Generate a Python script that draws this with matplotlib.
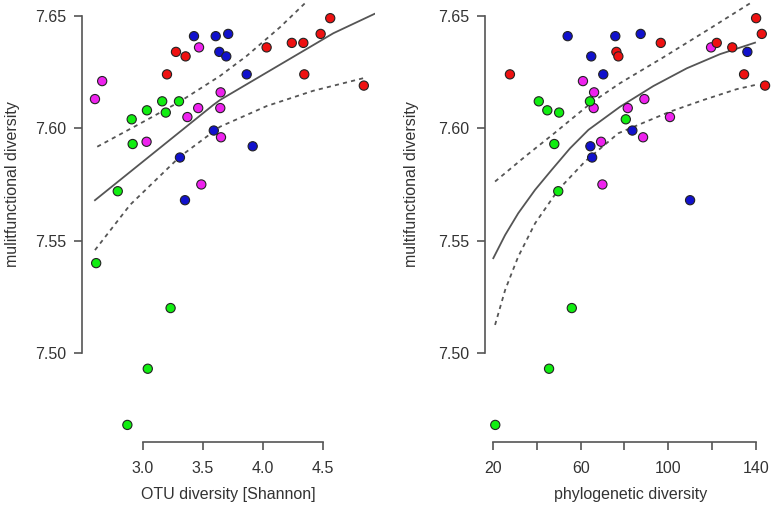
import matplotlib
matplotlib.use("Agg")
import matplotlib.pyplot as plt

plt.rcParams['font.family'] = ['Liberation Sans', 'DejaVu Sans']

# cores dos grupos (estilo R)
cores = {'r': '#ee1111', 'g': '#11ee11', 'b': '#1111cc', 'm': '#ee22ee'}

# ---- painel esquerdo: OTU diversity [Shannon] ----
otu_x = [2.60, 2.66, 3.03, 3.467, 3.37, 3.46, 3.486, 3.647, 3.644, 3.65,
         2.906, 2.914, 3.033, 3.16, 3.19, 3.30, 2.79, 2.61, 3.23, 3.04, 2.87,
         3.425, 3.308, 3.35, 3.606, 3.71, 3.636, 3.694, 3.59, 3.864, 3.914,
         3.20, 3.275, 3.355, 4.03, 4.24, 4.336, 4.344, 4.48, 4.56, 4.84]
otu_y = [7.613, 7.621, 7.594, 7.636, 7.605, 7.609, 7.575, 7.616, 7.609, 7.596,
         7.604, 7.593, 7.608, 7.612, 7.607, 7.612, 7.572, 7.540, 7.520, 7.493, 7.468,
         7.641, 7.587, 7.568, 7.641, 7.642, 7.634, 7.632, 7.599, 7.624, 7.592,
         7.624, 7.634, 7.632, 7.636, 7.638, 7.638, 7.624, 7.642, 7.649, 7.619]
otu_grupo = ['m'] * 10 + ['g'] * 11 + ['b'] * 10 + ['r'] * 10

otu_fit_x = [2.600, 3.586, 3.642, 4.586, 4.928]
otu_fit_y = [7.568, 7.6104, 7.6126, 7.6423, 7.6509]
otu_sup_x = [2.619, 3.031, 3.308, 3.642, 3.864, 4.142, 4.364]
otu_sup_y = [7.5918, 7.6037, 7.6119, 7.6233, 7.6322, 7.6450, 7.6564]
otu_inf_x = [2.600, 2.892, 3.308, 3.642, 4.031, 4.419, 4.836]
otu_inf_y = [7.5458, 7.5659, 7.5874, 7.6007, 7.6099, 7.6167, 7.6223]

# ---- painel direito: phylogenetic diversity ----
pd_x = [61.0, 66.1, 65.9, 69.3, 69.9, 81.5, 89.1, 88.5, 100.8, 119.6,
        40.8, 44.7, 50.1, 47.9, 49.7, 64.2, 80.6, 55.9, 45.5, 20.9,
        54.0, 64.8, 70.3, 64.4, 65.2, 75.8, 87.4, 83.6, 110.0, 136.2,
        27.6, 76.3, 77.2, 96.6, 122.2, 129.3, 134.7, 140.2, 142.8, 144.3]
pd_y = [7.621, 7.616, 7.609, 7.594, 7.575, 7.609, 7.613, 7.596, 7.605, 7.636,
        7.612, 7.608, 7.607, 7.593, 7.572, 7.612, 7.604, 7.520, 7.493, 7.468,
        7.641, 7.632, 7.624, 7.592, 7.587, 7.641, 7.642, 7.599, 7.568, 7.634,
        7.624, 7.634, 7.632, 7.638, 7.638, 7.636, 7.624, 7.649, 7.642, 7.619]
pd_grupo = ['m'] * 10 + ['g'] * 10 + ['b'] * 10 + ['r'] * 10

pd_fit_x = [20.0, 25.4, 31.4, 39.1, 46.7, 55.1, 63.5, 78.0, 93.2, 108.5, 123.7, 139.7]
pd_fit_y = [7.5422, 7.5525, 7.5622, 7.5726, 7.5815, 7.5911, 7.5993, 7.6096, 7.6188, 7.6267, 7.6330, 7.6381]
pd_sup_x = [20.8, 34.5, 47.9, 65.0, 78.0, 97.8, 117.6, 137.4]
pd_sup_y = [7.5763, 7.5874, 7.5978, 7.6115, 7.6201, 7.6316, 7.6435, 7.6556]
pd_inf_x = [20.8, 25.4, 28.4, 31.4, 39.1, 49.7, 61.9, 77.2, 100.8, 116.1, 131.3, 141.2]
pd_inf_y = [7.5125, 7.5280, 7.5355, 7.5429, 7.5577, 7.5726, 7.5852, 7.5978, 7.6074, 7.6126, 7.6174, 7.6196]

y_ticks = [7.50, 7.55, 7.60, 7.65]
cinza = '#555555'


def desenhaPainel(ax, xs, ys, grupos, fit, sup, inf, xlim, xticks, xlabels, xlabel, ylabel):
    ax.plot(fit[0], fit[1], color=cinza, lw=1.3, zorder=2)
    ax.plot(sup[0], sup[1], color=cinza, lw=1.3, ls=(0, (2.3, 2.3)), zorder=2)
    ax.plot(inf[0], inf[1], color=cinza, lw=1.3, ls=(0, (2.3, 2.3)), zorder=2)
    ax.scatter(xs, ys, s=44, c=[cores[g] for g in grupos], edgecolors='#222222',
               linewidths=0.8, zorder=3, clip_on=False)

    ax.set_xlim(xlim)
    ax.set_ylim(7.4604, 7.6562)
    ax.set_xticks(xticks)
    ax.set_xticklabels(xlabels)
    ax.set_yticks(y_ticks)
    ax.set_yticklabels(['%.2f' % v for v in y_ticks])

    for lado in ['top', 'right']:
        ax.spines[lado].set_visible(False)
    ax.spines['left'].set_bounds(7.50, 7.65)
    ax.spines['bottom'].set_bounds(xticks[0], xticks[-1])
    for lado in ['left', 'bottom']:
        ax.spines[lado].set_color(cinza)
        ax.spines[lado].set_linewidth(1.2)
    ax.tick_params(direction='out', length=5.5, width=1.2, color=cinza,
                   labelsize=11.5, labelcolor='#333333', pad=6)
    ax.tick_params(axis='x', pad=8)

    ax.set_xlabel(xlabel, fontsize=11.5, color='#333333')
    ax.set_ylabel(ylabel, fontsize=11.5, color='#333333')
    ax.xaxis.set_label_coords(0.5, -0.102)
    ax.yaxis.set_label_coords(-0.212, 0.586)


fig = plt.figure(figsize=(7.72, 5.05), dpi=100)
ax1 = fig.add_axes([82 / 772, 63 / 505, 293 / 772, 440 / 505])
ax2 = fig.add_axes([485 / 772, 63 / 505, 291 / 772, 440 / 505])

desenhaPainel(ax1, otu_x, otu_y, otu_grupo,
              (otu_fit_x, otu_fit_y), (otu_sup_x, otu_sup_y), (otu_inf_x, otu_inf_y),
              (2.492, 4.933), [3.0, 3.5, 4.0, 4.5], ['3.0', '3.5', '4.0', '4.5'],
              'OTU diversity [Shannon]', 'mulitfunctional diversity')

desenhaPainel(ax2, pd_x, pd_y, pd_grupo,
              (pd_fit_x, pd_fit_y), (pd_sup_x, pd_sup_y), (pd_inf_x, pd_inf_y),
              (16.2, 149.3), [20, 40, 60, 80, 100, 120, 140],
              ['20', '', '60', '', '100', '', '140'],
              'phylogenetic diversity', 'multifunctional diversity')
ax2.yaxis.set_label_coords(-0.228, 0.586)

fig.savefig('out.png', dpi=100)
plt.close()
